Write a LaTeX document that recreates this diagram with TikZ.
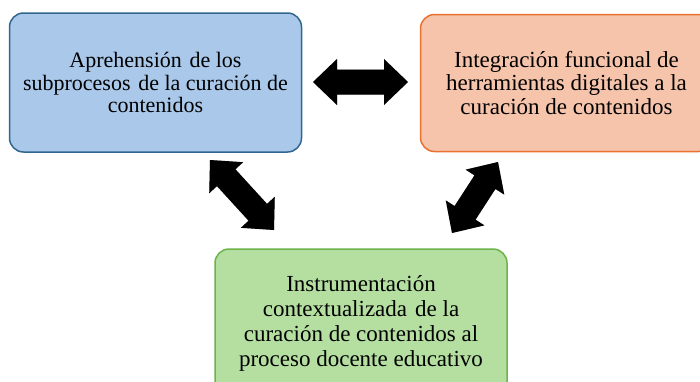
\documentclass[tikz,border=0pt]{standalone}
\usepackage{fontspec}
\setmainfont{Liberation Serif}
\usetikzlibrary{calc}
\definecolor{bluefill}{HTML}{A9C8EA}
\definecolor{blueline}{HTML}{31678F}
\definecolor{orfill}{HTML}{F6C4AA}
\definecolor{orline}{HTML}{EA7030}
\definecolor{grfill}{HTML}{B4DFA1}
\definecolor{grline}{HTML}{6CB34B}
\tikzset{
  box/.style={rounded corners=14pt, line width=1.5pt, inner sep=0pt,
    minimum width=292pt, align=center},
  arrowbody/.style={fill=black},
  arrowshade/.style={fill=black, opacity=0.12},
}
\newcommand\blockarrowpath[2]{%
  (#1) -- ($(ha)!23pt!90:(#1)$) -- ($(ha)!12.5pt!90:(#1)$) --
  ($(hb)!12.5pt!90:(#1)$) -- ($(hb)!23pt!90:(#1)$) -- (#2) --
  ($(hb)!23pt!-90:(#1)$) -- ($(hb)!12.5pt!-90:(#1)$) --
  ($(ha)!12.5pt!-90:(#1)$) -- ($(ha)!23pt!-90:(#1)$) -- cycle}
\newcommand\blockarrow[2]{%
  \path ($(#1)!24pt!(#2)$) coordinate (ha) ($(#2)!24pt!(#1)$) coordinate (hb);
  \foreach \s in {1.5,2.5,3.5}{\fill[arrowshade, shift={(\s,\s)}] \blockarrowpath{#1}{#2};}
  \fill[arrowbody] \blockarrowpath{#1}{#2};}
\begin{document}
\begin{tikzpicture}[x=1pt,y=-1pt]
\useasboundingbox (0,0) rectangle (700,381);
\clip (0,0) rectangle (700,381);
\node[box, draw=blueline, fill=bluefill, minimum height=139pt,
  font=\fontsize{22}{22.5}\selectfont] (a) at (155.5,82.5)
  {Aprehensión\hspace{0.1em} de los\\ subprocesos\hspace{0.1em} de la curación de\\ contenidos};
\node[box, draw=orline, fill=orfill, minimum height=137pt,
  font=\fontsize{23}{23.5}\selectfont] (b) at (566.5,83)
  {Integración funcional de\\ herramientas digitales a la\\ curación de contenidos};
\node[box, draw=grline, fill=grfill, minimum height=149pt,
  font=\fontsize{23}{25}\selectfont] (c) at (361,323.5)
  {Instrumentación\\ contextualizada\hspace{0.1em} de la\\ curación de contenidos al\\ proceso docente educativo};
\coordinate (ab1) at (313,82);
\coordinate (ab2) at (408,82);
\coordinate (ac1) at (210,160);
\coordinate (ac2) at (274,230);
\coordinate (bc1) at (498,162);
\coordinate (bc2) at (452,233);
\blockarrow{ab1}{ab2}
\blockarrow{ac1}{ac2}
\blockarrow{bc1}{bc2}
\end{tikzpicture}
\end{document}
